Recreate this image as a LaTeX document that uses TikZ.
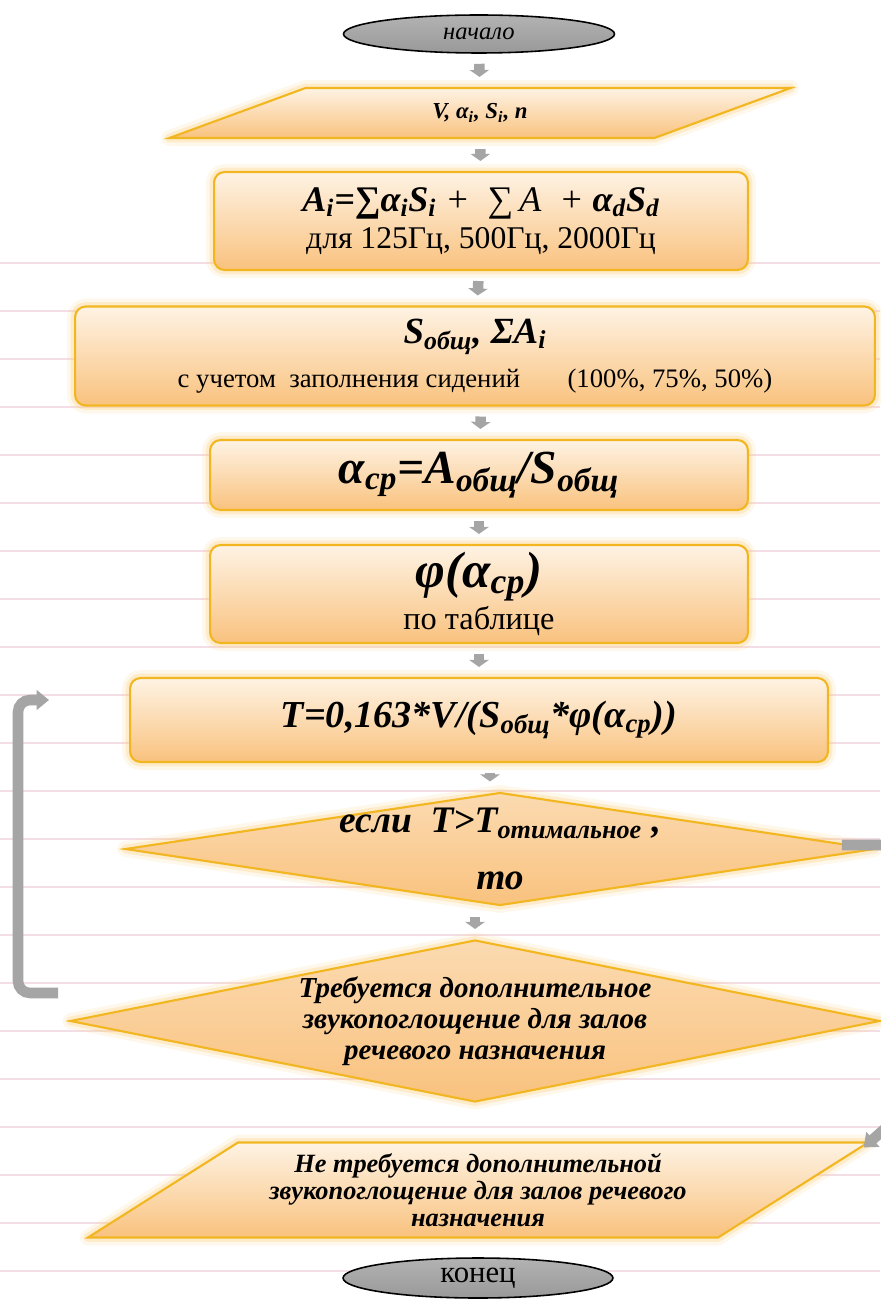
\documentclass[tikz,border=0pt]{standalone}
\usepackage{fontspec}
\setmainfont{Liberation Serif}
\usetikzlibrary{shapes.geometric,arrows.meta,calc}

\definecolor{boxtop}{HTML}{FEF3E4}
\definecolor{boxbot}{HTML}{F9C27E}
\definecolor{boxline}{HTML}{F2B620}
\definecolor{glowc}{HTML}{FBCF80}
\definecolor{arrowc}{HTML}{A5A5A5}
\definecolor{rulec}{HTML}{F4DEE5}

\newcommand{\sbs}[1]{\textsubscript{#1}}

\tikzset{
  glow/.style={preaction={draw=glowc, line width=9pt, line join=round, opacity=.16},
               preaction={draw=glowc, line width=5pt, line join=round, opacity=.3}},
  block/.style={glow, draw=boxline, line width=1.2pt, top color=boxtop, bottom color=boxbot,
                rounded corners=6pt, align=center, inner sep=0pt},
  iobox/.style={glow, draw=boxline, line width=1.2pt, top color=boxtop, bottom color=boxbot,
                trapezium, trapezium stretches=true, align=center, inner sep=0pt},
  decide/.style={glow, draw=boxline, line width=1.2pt, top color=boxtop!50!boxbot, bottom color=boxbot,
                 diamond, align=center, inner xsep=0pt},
  term/.style={ellipse, draw=black, line width=0.9pt, top color=gray!60, middle color=gray!30,
               bottom color=gray!80, inner sep=0pt},
  flow/.style={arrowc, line width=6pt, shorten <=0.2cm, shorten >=0.2cm,
               -{Triangle[length=4pt,width=11pt]}},
  back/.style={arrowc, line width=6pt, rounded corners=0.24cm,
               -{Triangle[length=7pt,width=11pt]}},
}

\begin{document}
\begin{tikzpicture}[x=0.02cm, y=-0.02cm]
  \useasboundingbox (0,0) rectangle (880,1300);
  % ruled paper
  \foreach \r in {0,...,21}
    \draw[rulec, line width=0.8pt] (0,263+48*\r) -- (880,263+48*\r);

  \node[term, minimum width=5.42cm, minimum height=0.76cm,
        font=\itshape\fontsize{14}{16}\selectfont] (start) at (479,34) {начало};
  \node[iobox, trapezium left angle=27, trapezium right angle=153,
        minimum width=12.5cm, minimum height=1cm,
        font=\bfseries\itshape\fontsize{13}{15}\selectfont] (in) at (480,113)
        {V, α\sbs{i}, S\sbs{i}, n};
  \node[block, minimum width=10.68cm, minimum height=1.96cm] (sum) at (481,221)
        {{\fontsize{20.5}{24}\selectfont\itshape\textbf{A\sbs{i}=∑α\sbs{i}S\sbs{i}} +\ \ ∑\,A\ \ + \textbf{α\sbs{d}S\sbs{d}}}\\[4pt]
         {\fontsize{18}{21}\selectfont для 125Гц,\ 500Гц,\ 2000Гц}};
  \node[block, minimum width=16cm, minimum height=1.98cm] (area) at (475,356)
        {{\fontsize{21}{24}\selectfont\bfseries\itshape S\sbs{общ}, ΣA\sbs{i}}\\[7pt]
         {\fontsize{15.2}{18}\selectfont с учетом\ \ заполнения сидений\hspace{0.95cm}(100\%, 75\%, 50\%)}};
  \node[block, minimum width=10.76cm, minimum height=1.4cm,
        font=\bfseries\itshape\fontsize{27}{30}\selectfont] (mean) at (479,475)
        {α\sbs{ср}=A\sbs{общ}/S\sbs{общ}};
  \node[block, minimum width=10.76cm, minimum height=1.96cm] (phi) at (479,594)
        {{\fontsize{29}{32}\selectfont\bfseries\itshape φ(α\sbs{ср})}\\[2pt]
         {\fontsize{18.4}{21}\selectfont по таблице}};
  \node[block, minimum width=13.96cm, minimum height=1.68cm,
        font=\bfseries\itshape\fontsize{21.7}{25}\selectfont] (rev) at (479,720)
        {T=0,163*V/(S\sbs{общ}*φ(α\sbs{ср}))};
  \node[decide, aspect=6.6, inner ysep=-0.6cm, minimum width=15cm, minimum height=2.26cm,
        font=\bfseries\itshape\fontsize{21.3}{26}\selectfont] (cmp) at (500,849)
        {если\ \ T>T\sbs{отимальное}\ ,\\[6pt] то};
  \node[decide, aspect=5, inner ysep=-0.3cm, minimum width=16.2cm, minimum height=3.24cm,
        font=\bfseries\itshape\fontsize{16.5}{17.5}\selectfont] (yes) at (475,1021)
        {Требуется дополнительное\\звукопоглощение для залов\\речевого назначения};
  \node[iobox, trapezium left angle=29.5, trapezium right angle=150.5,
        minimum width=15.68cm, minimum height=1.9cm,
        font=\bfseries\itshape\fontsize{15}{15.5}\selectfont] (no) at (478,1190)
        {Не требуется дополнительной\\звукопоглощение для залов речевого\\назначения};
  \node[term, minimum width=5.4cm, minimum height=0.8cm,
        font=\fontsize{17.5}{19}\selectfont] (stop) at (478,1278) {конец};

  % main flow
  \draw[flow] (start) -- (in);
  \draw[flow] (in) -- (sum);
  \draw[flow] (sum) -- (area);
  \draw[flow] (area.south -| sum.south) -- (mean);
  \draw[flow] (mean) -- (phi);
  \draw[flow] (phi) -- (rev);
  \draw[flow] (rev.south -| 490,0) -- (cmp.north -| 490,0);
  \draw[flow] (cmp.south -| yes.north) -- (yes.north);

  % back to the calculation
  \coordinate (loopS) at (58,993);
  \coordinate (loopE) at (49,700);
  \draw[back] (loopS) -- ++(-40,0) |- (loopE);
  % no extra absorption
  \draw[back] ($(cmp.east)+(-34,-4)$) -- (897,845) -- (897,1118) -- ($(no.top right corner)+(-8,6)$);
\end{tikzpicture}
\end{document}
